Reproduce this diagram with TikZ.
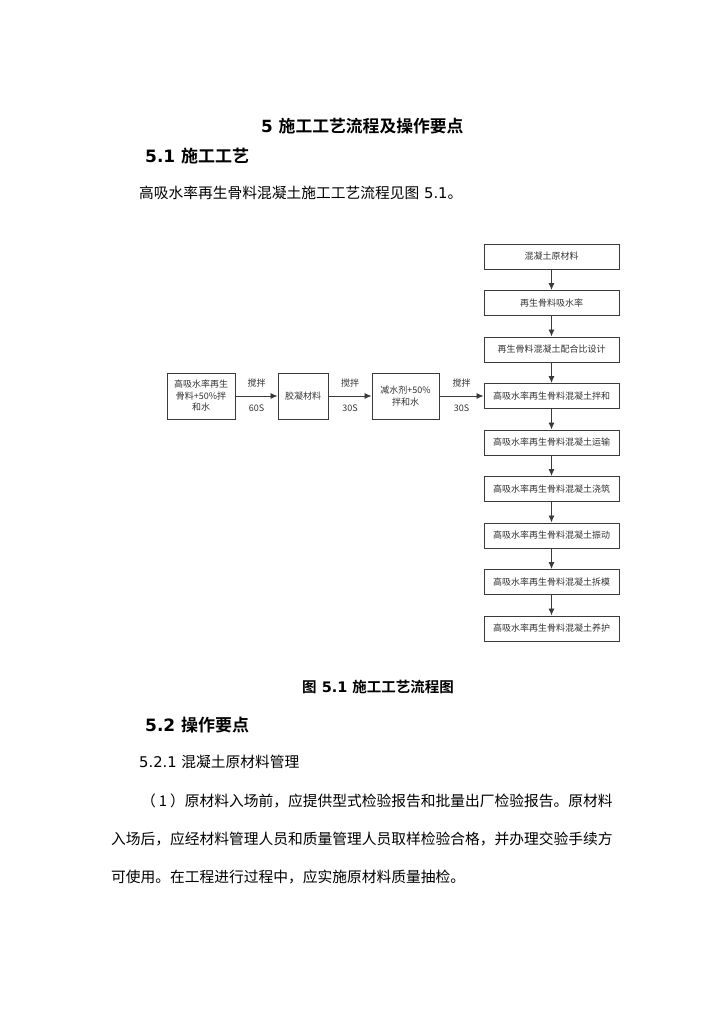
\documentclass[tikz,border=0pt]{standalone}
\usepackage{fontspec}
\setmainfont{DejaVu Sans}
\newfontfamily\zh{Noto Sans CJK SC}[BoldFont={Noto Sans CJK SC Bold}]
\usetikzlibrary{arrows.meta}
\definecolor{ln}{HTML}{3A3A3A}
\definecolor{tx}{HTML}{333333}
\begin{document}
\begin{tikzpicture}[x=1pt,y=-1pt,
  stepbox/.style={draw=ln,line width=1pt,minimum width=135pt,minimum height=25pt,inner sep=0pt,font=\zh\fontsize{9}{11}\selectfont,text=tx},
  leftbox/.style={draw=ln,line width=1pt,minimum height=46pt,inner sep=0pt,align=center,font=\zh\fontsize{9}{11.5}\selectfont,text=tx},
  arr/.style={draw=ln,line width=0.9pt,-{Latex[length=7pt,width=6pt]}},
  lbl/.style={font=\zh\fontsize{9}{11}\selectfont,text=tx,inner sep=0pt},
  txt/.style={anchor=west,inner sep=0pt,text=black},
  head/.style={txt,font=\bfseries\fontsize{17}{20}\selectfont},
  body/.style={txt,font=\fontsize{14.75}{18}\selectfont}
]
\fill[white] (0,0) rectangle (724,1024);
\useasboundingbox (0,0) rectangle (724,1024);

% texts
\node[head,font=\bfseries\fontsize{16.8}{20}\selectfont] (title) at (261,126) {5 {\zh\bfseries 施工工艺流程及操作要点}};
\node[head] (sec1) at (145,156) {5.1 {\zh\bfseries 施工工艺}};
\node[body] (intro) at (139,193) {{\zh 高吸水率再生骨料混凝土施工工艺流程见图} 5.1{\zh 。}};
\node[txt,font=\bfseries\fontsize{14.5}{18}\selectfont] (cap) at (302,687) {{\zh\bfseries 图} 5.1 {\zh\bfseries 施工工艺流程图}};
\node[head] (sec2) at (145,725) {5.2 {\zh\bfseries 操作要点}};
\node[body] (sub1) at (139,762) {5.2.1 {\zh 混凝土原材料管理}};
\node[body] (par1) at (141,801) {\zh （\hspace{3pt}1\hspace{3pt}）原材料入场前，应提供型式检验报告和批量出厂检验报告。原材料};
\node[body] (par2) at (111,839) {\zh 入场后，应经材料管理人员和质量管理人员取样检验合格，并办理交验手续方};
\node[body] (par3) at (111,877) {\zh 可使用。在工程进行过程中，应实施原材料质量抽检。};

% right column
\node[stepbox] (r1) at (551.5,256.5) {混凝土原材料};
\node[stepbox] (r2) at (551.5,303) {再生骨料吸水率};
\node[stepbox] (r3) at (551.5,349.5) {再生骨料混凝土配合比设计};
\node[stepbox] (r4) at (551.5,396) {高吸水率再生骨料混凝土拌和};
\node[stepbox] (r5) at (551.5,442.5) {高吸水率再生骨料混凝土运输};
\node[stepbox] (r6) at (551.5,489) {高吸水率再生骨料混凝土浇筑};
\node[stepbox] (r7) at (551.5,535.5) {高吸水率再生骨料混凝土振动};
\node[stepbox] (r8) at (551.5,582) {高吸水率再生骨料混凝土拆模};
\node[stepbox] (r9) at (551.5,628.5) {高吸水率再生骨料混凝土养护};

% left row
\node[leftbox,minimum width=68pt] (a) at (201,396) {高吸水率再生\\骨料+50\%拌\\和水};
\node[leftbox,minimum width=50pt] (b) at (303,396) {胶凝材料};
\node[leftbox,minimum width=67pt] (c) at (405.5,396) {减水剂+50\%\\拌和水};

% connectors
\draw[arr] (r1) -- (r2);
\draw[arr] (r2) -- (r3);
\draw[arr] (r3) -- (r4);
\draw[arr] (r4) -- (r5);
\draw[arr] (r5) -- (r6);
\draw[arr] (r6) -- (r7);
\draw[arr] (r7) -- (r8);
\draw[arr] (r8) -- (r9);
\draw[arr] (a) -- node[lbl,above=8pt] (k1) {搅拌} node[lbl,below=8pt] (t1) {60S} (b);
\draw[arr] (b) -- node[lbl,above=8pt] (k2) {搅拌} node[lbl,below=8pt] (t2) {30S} (c);
\draw[arr] (c) -- node[lbl,above=8pt] (k3) {搅拌} node[lbl,below=8pt] (t3) {30S} (r4);
\end{tikzpicture}
\end{document}
